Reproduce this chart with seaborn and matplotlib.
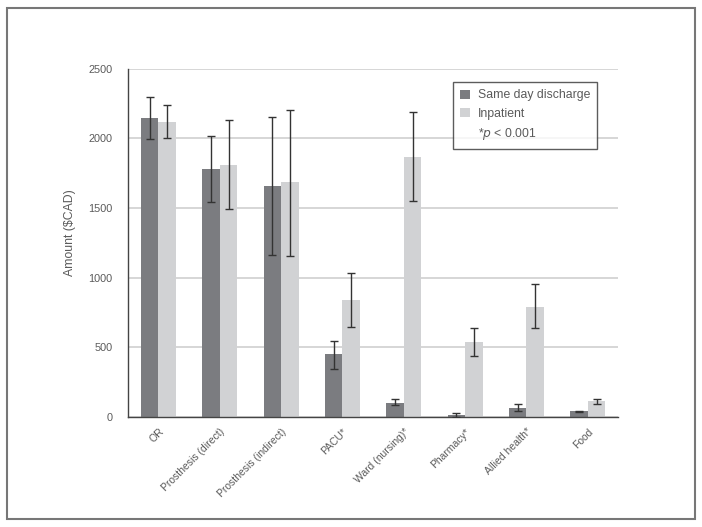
import numpy as np
import pandas as pd
import matplotlib
matplotlib.use("Agg")
import matplotlib.pyplot as plt
from matplotlib.patches import Rectangle, Patch
import seaborn as sns

categories = ["OR", "Prosthesis (direct)", "Prosthesis (indirect)", "PACU*",
              "Ward (nursing)*", "Pharmacy*", "Allied health*", "Food"]
series = ["Same day discharge", "Inpatient"]

sdd_vals = [2148, 1779, 1657, 448, 103, 14, 65, 39]
sdd_low = [1997, 1543, 1165, 347, 82, 2, 43, 37]
sdd_high = [2296, 2016, 2150, 545, 125, 27, 91, 41]

inp_vals = [2117, 1811, 1682, 837, 1865, 538, 792, 113]
inp_low = [2000, 1490, 1158, 646, 1547, 440, 636, 93]
inp_high = [2236, 2131, 2205, 1029, 2188, 639, 952, 129]

yticks = [0, 500, 1000, 1500, 2000, 2500]

sns.set_theme(style="white")
plt.rcParams['font.family'] = ['Liberation Sans', 'DejaVu Sans']
text_col = "#5a5a5a"

df = pd.DataFrame({
    "category": categories * 2,
    "group": [series[0]] * len(categories) + [series[1]] * len(categories),
    "value": sdd_vals + inp_vals,
})

fig = plt.figure(figsize=(7.02, 5.27), dpi=100)
ax = fig.add_axes([0.182, 0.209, 0.699, 0.661])

palette = {series[0]: "#7b7c80", series[1]: "#d1d2d4"}
sns.barplot(data=df, x="category", y="value", hue="group", palette=palette,
            width=0.57, saturation=1, errorbar=None, ax=ax, legend=False,
            linewidth=0)

# error bars from bar positions
lows = [sdd_low, inp_low]
highs = [sdd_high, inp_high]
vals = [sdd_vals, inp_vals]
bar_containers = list(ax.containers)
for gi, cont in enumerate(bar_containers):
    xs = [p.get_x() + p.get_width() / 2 for p in cont.patches]
    v = np.array(vals[gi], dtype=float)
    lo = v - np.array(lows[gi])
    hi = np.array(highs[gi]) - v
    ax.errorbar(xs, v, yerr=[lo, hi], fmt="none", ecolor="#333333",
                elinewidth=1.0, capsize=3.0, capthick=1.0, zorder=5)

ax.set_ylim(0, 2500)
ax.set_xlim(-0.5, len(categories) - 0.5)
ax.set_yticks(yticks)
ax.set_yticklabels([str(t) for t in yticks], color=text_col, fontsize=7.8)
ax.yaxis.grid(True, color="#cccccc", linewidth=1.1)
ax.set_axisbelow(True)
ax.set_xlabel("")
ax.set_ylabel("Amount ($CAD)", color=text_col, fontsize=8.8)
ax.yaxis.set_label_coords(-0.105, 0.53)

ax.set_xticks(np.arange(len(categories)))
ax.set_xticklabels(categories, rotation=45, ha="right", rotation_mode="anchor",
                   color=text_col, fontsize=7.5)
ax.tick_params(axis="x", length=0, pad=7)
# boundary ticks on x axis
ax.set_xticks(np.arange(len(categories) + 1) - 0.5, minor=True)
ax.tick_params(axis="x", which="minor", length=5, color="#444444", width=1, direction="out")
ax.tick_params(axis="y", length=5, color="#444444", width=1, direction="out", pad=6)

for s in ["top", "right"]:
    ax.spines[s].set_visible(False)
for s in ["left", "bottom"]:
    ax.spines[s].set_color("#444444")
    ax.spines[s].set_linewidth(1.0)

handles = [Patch(facecolor=palette[series[0]], edgecolor="none"),
           Patch(facecolor=palette[series[1]], edgecolor="none"),
           Patch(facecolor="none", edgecolor="none")]
labels = [series[0], series[1], r"*$\it{p}$ < 0.001"]
leg = ax.legend(handles, labels, loc="upper left", bbox_to_anchor=(0.663, 0.961),
                borderaxespad=0, frameon=True, fancybox=False, fontsize=8.8,
                handlelength=0.8, handleheight=0.8, handletextpad=0.6,
                labelspacing=0.5, borderpad=0.6, edgecolor="#333333",
                labelcolor=text_col)
leg.get_frame().set_linewidth(1.0)

fig.patches.append(Rectangle((0.010, 0.015), 0.980, 0.970, transform=fig.transFigure,
                             fill=False, edgecolor="#777777", linewidth=1.5))

fig.savefig("out.png", dpi=100, facecolor="white")
